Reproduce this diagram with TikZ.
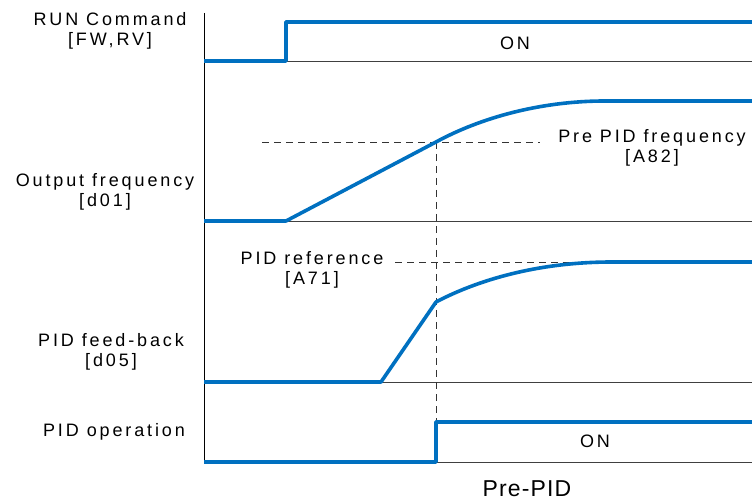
\documentclass[tikz,border=0pt]{standalone}
\usepackage{fontspec}
\newfontfamily\gulim[LetterSpace=16]{Liberation Sans}
\newfontfamily\capfont[LetterSpace=5]{Liberation Sans}
\usepackage{tikz}
\usetikzlibrary{positioning}
\definecolor{sigblue}{RGB}{0,112,192}

\begin{document}
\begin{tikzpicture}[x=1pt, y=-1pt,
    signal/.style={line width=3.6pt, sigblue, line join=round},
    baseln/.style={line width=0.9pt, black!75},
    guide/.style={line width=0.8pt, black!80, dash pattern=on 7pt off 5pt},
    lbl/.style={font={\gulim\fontsize{18}{20}\selectfont}, align=center, inner sep=0pt}]

    \useasboundingbox (0,0) rectangle (752,502);

    % Time axis and base lines
    \coordinate (axtop) at (204,13);
    \coordinate (axbot) at (204,462);
    \draw[line width=0.9pt] (axtop) -- (axbot);
    \foreach \yy/\nm in {61/run, 221/out, 382/fb, 462/op} {
        \coordinate (\nm L) at (204,\yy);
        \coordinate (\nm R) at (752,\yy);
        \draw[baseln] (\nm L) -- (\nm R);
    }

    % Guide lines
    \coordinate (preL) at (262,142);
    \coordinate (preR) at (540,142);
    \coordinate (refL) at (395,262);
    \coordinate (refR) at (612,262);
    \coordinate (cross) at (436,142);
    \coordinate (opup) at (436,422);
    \draw[guide] (preL) -- (preR);
    \draw[guide] (refL) -- (refR);
    \draw[guide] (cross) -- (opup);

    % RUN Command
    \node[lbl] (runlbl) at (110,31) {RUN Command\\{[FW,RV]}};
    \coordinate (runst) at (286,61);
    \draw[signal] (runL) -- (runst) -- (286,22) -- (752,22);
    \node[lbl] (runon) at (515,43) {ON};

    % Output frequency
    \node[lbl] (outlbl) at (105,192) {Output frequency\\{[d01]}};
    \coordinate (outst) at (286,221);
    \draw[signal] (outL) -- (outst) -- (cross)
        .. controls (480,118) and (540,101) .. (605,101) -- (752,101);
    \node[lbl] (prelbl) at (652,148) {Pre PID frequency\\{[A82]}};

    % PID feed-back
    \node[lbl] (fblbl) at (111,352) {PID feed-back\\{[d05]}};
    \coordinate (fbst) at (381,382);
    \coordinate (fbkink) at (436,302);
    \draw[signal] (fbL) -- (fbst) -- (fbkink)
        .. controls (470,284) and (530,262) .. (refR) -- (752,262);
    \node[lbl] (reflbl) at (312,270) {PID reference\\{[A71]}};

    % PID operation
    \node[lbl] (oplbl) at (114,432) {PID operation};
    \coordinate (opst) at (436,462);
    \draw[signal] (opL) -- (opst) -- (opup) -- (752,422);
    \node[lbl] (opon) at (595,441) {ON};

    \node[font={\capfont\fontsize{23}{26}\selectfont}, inner sep=0pt] (title) at (527,489) {Pre-PID};

\end{tikzpicture}
\end{document}
